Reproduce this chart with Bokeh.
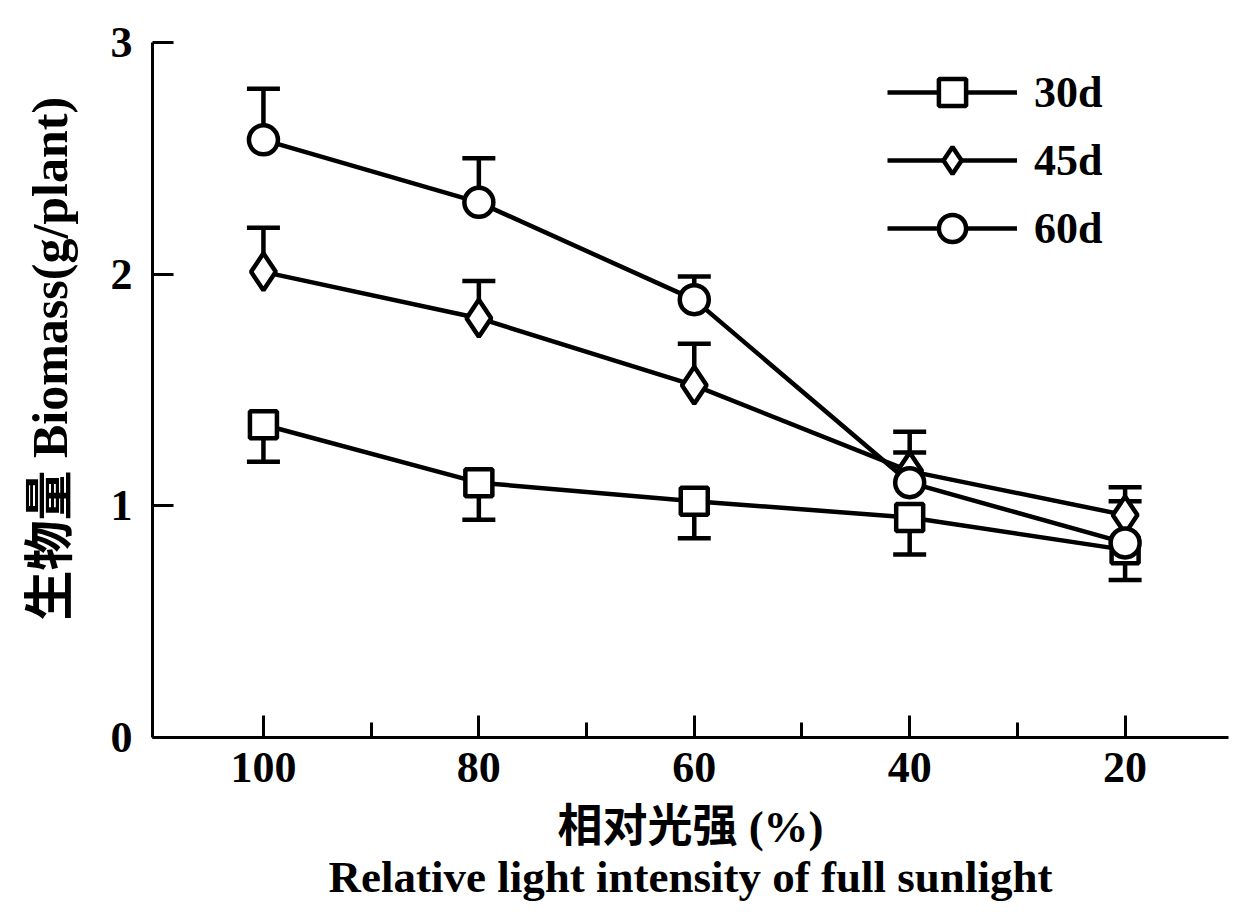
from bokeh.plotting import figure
from bokeh.models import Range1d, FixedTicker, Legend, LegendItem
from bokeh.embed import file_html
from bokeh.resources import INLINE

# ---- data ----
light = [100, 80, 60, 40, 20]
biomass_30d = [1.35, 1.10, 1.02, 0.95, 0.81]
sd_30d = [0.16, 0.16, 0.16, 0.16, 0.13]
biomass_45d = [2.01, 1.81, 1.52, 1.15, 0.96]
sd_45d = [0.19, 0.16, 0.18, 0.08, 0.12]
biomass_60d = [2.58, 2.31, 1.89, 1.10, 0.84]
sd_60d = [0.22, 0.19, 0.10, 0.22, 0.18]
series_labels = ["30d", "45d", "60d"]
x_major_ticks = [100, 80, 60, 40, 20]
x_minor_ticks = [90, 70, 50, 30]
y_major_ticks = [0, 1, 2, 3]
x_title = "相对光强 (%)\nRelative light intensity of full sunlight"
y_title = "\u2003\u2005生物量 Biomass(g/plant)"

FONT = "Liberation Serif, Noto Sans CJK SC"

p = figure(width=1230, height=910, output_backend="svg", toolbar_location=None,
           x_range=Range1d(110.3, 10.4), y_range=Range1d(0, 3),
           min_border_left=152, min_border_right=2, min_border_top=42,
           min_border_bottom=173)
p.outline_line_color = None
p.grid.visible = False
p.background_fill_color = "white"
p.border_fill_color = "white"

for ax in (p.xaxis[0], p.yaxis[0]):
    ax.axis_line_width = 3
    ax.axis_line_color = "black"
    ax.major_tick_line_width = 3
    ax.minor_tick_line_width = 3
    ax.major_tick_out = 0
    ax.minor_tick_out = 0
    ax.major_label_text_font = FONT
    ax.major_label_text_font_style = "bold"
    ax.major_label_text_font_size = "44px"
    ax.major_label_text_color = "black"
    ax.axis_label_text_font = FONT
    ax.axis_label_text_font_style = "bold"
    ax.axis_label_text_color = "black"

p.xaxis.ticker = FixedTicker(ticks=x_major_ticks, minor_ticks=x_minor_ticks)
p.xaxis.major_tick_in = 22
p.xaxis.minor_tick_in = 15
p.xaxis.major_label_standoff = 15
p.xaxis.axis_label = x_title
p.xaxis.axis_label_text_font_size = "45px"
p.xaxis.axis_label_text_line_height = 1.0
p.xaxis.axis_label_standoff = 17

p.yaxis.ticker = FixedTicker(ticks=y_major_ticks, minor_ticks=[])
p.yaxis.major_tick_in = 21
p.yaxis.minor_tick_in = 0
p.yaxis.major_label_standoff = 20
p.yaxis.axis_label = y_title
p.yaxis.axis_label_text_font_size = "50px"
p.yaxis.axis_label_standoff = 30

series = [
    (biomass_30d, sd_30d, -1, "square", 27),
    (biomass_45d, sd_45d, 1, "diamond", 37),
    (biomass_60d, sd_60d, 1, "circle", 29),
]

LW = 4.5

# error bars
for vals, errs, sign, _, _ in series:
    ends = [v + sign * e for v, e in zip(vals, errs)]
    p.segment(x0=light, y0=vals, x1=light, y1=ends, line_color="black", line_width=LW)
    p.scatter(x=light, y=ends, marker="dash", size=33, line_color="black", line_width=LW)

lines = []
for vals, errs, sign, marker, size in series:
    lines.append(p.line(x=light, y=vals, line_color="black", line_width=LW))

items = []
for (vals, errs, sign, marker, size), lab, ln in zip(series, series_labels, lines):
    mk = p.scatter(x=light, y=vals, marker=marker, size=size, fill_color="white",
                   line_color="black", line_width=LW)
    items.append(LegendItem(label=lab, renderers=[ln, mk]))

legend = Legend(items=items, location=(735, 475), glyph_width=130, glyph_height=68,
                spacing=0, label_standoff=17, padding=0, margin=0,
                border_line_alpha=0, background_fill_alpha=0,
                label_text_font=FONT, label_text_font_style="bold",
                label_text_font_size="44px", label_text_color="black")
p.add_layout(legend)

open("out.html", "w").write(file_html(p, INLINE))
